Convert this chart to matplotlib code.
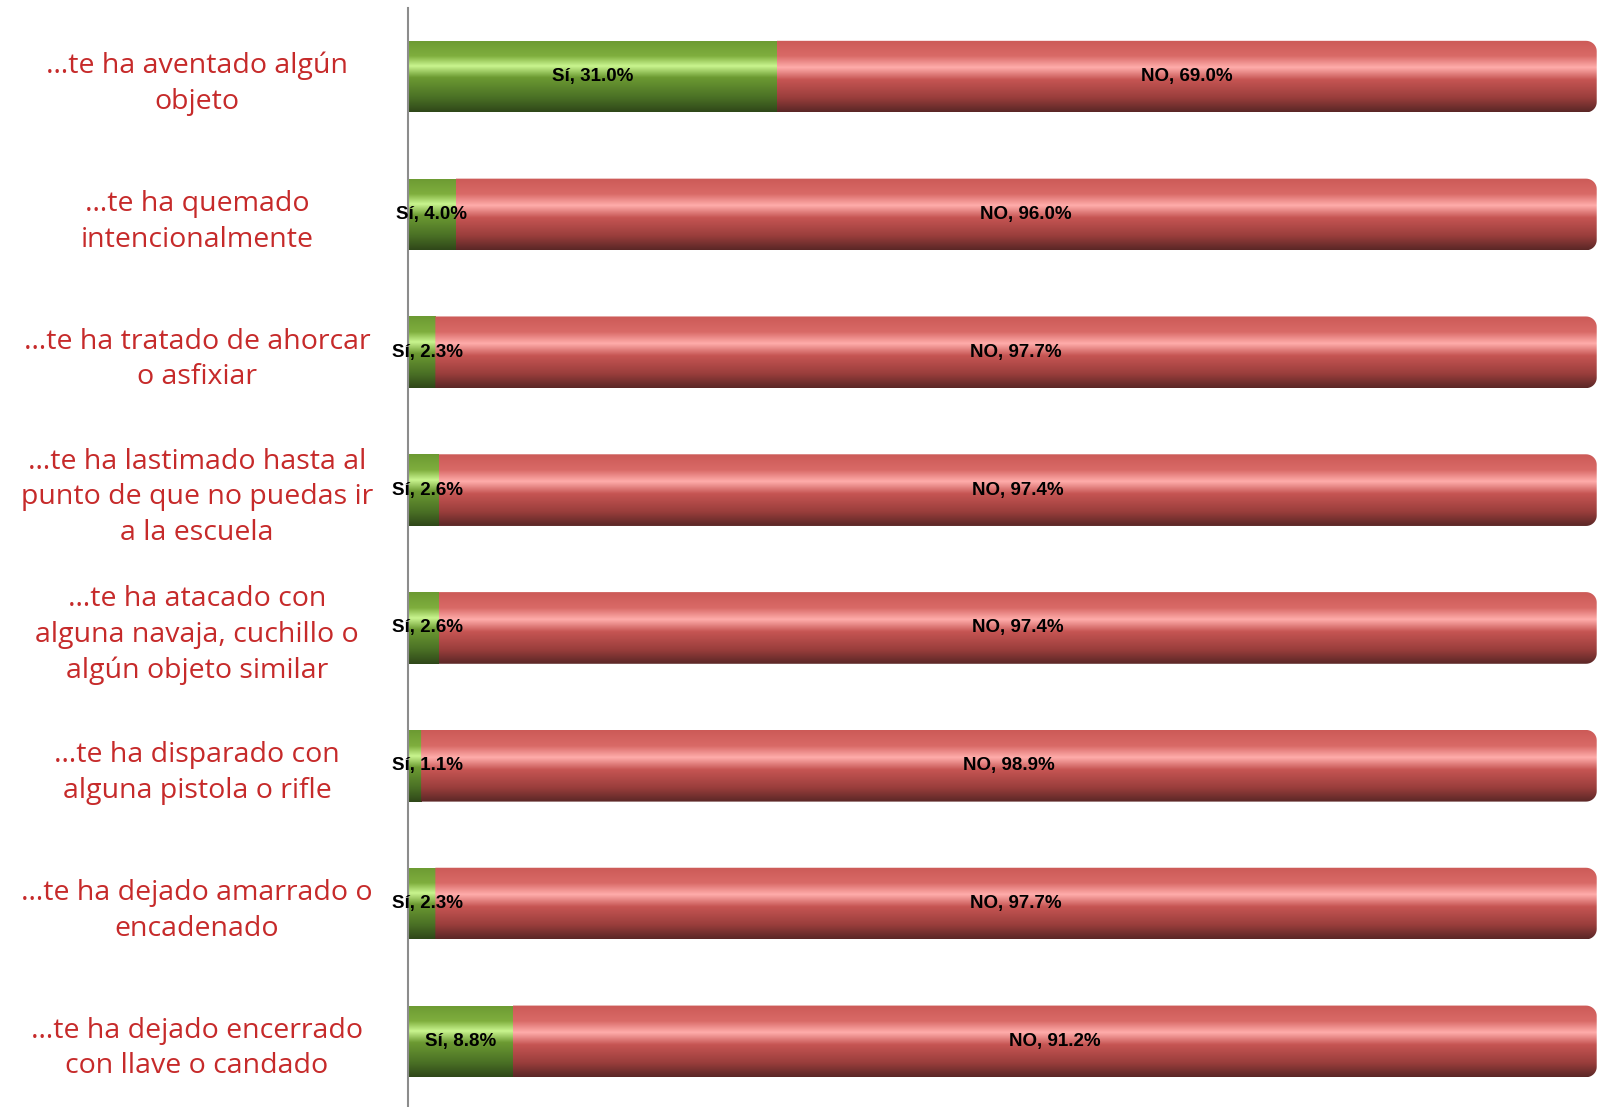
import numpy as np
import matplotlib
matplotlib.use("Agg")
import matplotlib.pyplot as plt
from matplotlib.colors import LinearSegmentedColormap
from matplotlib.path import Path
from matplotlib.patches import PathPatch

# survey items, top to bottom
items = [
    "…te ha aventado algún\nobjeto",
    "…te ha quemado\nintencionalmente",
    "…te ha tratado de ahorcar\no asfixiar",
    "…te ha lastimado hasta al\npunto de que no puedas ir\na la escuela",
    "…te ha atacado con\nalguna navaja, cuchillo o\nalgún objeto similar",
    "…te ha disparado con\nalguna pistola o rifle",
    "…te ha dejado amarrado o\nencadenado",
    "…te ha dejado encerrado\ncon llave o candado",
]
si_pct = [31.0, 4.0, 2.3, 2.6, 2.6, 1.1, 2.3, 8.8]
no_pct = [69.0, 96.0, 97.7, 97.4, 97.4, 98.9, 97.7, 91.2]

# cylinder-like shading: rows go from bar top to bar bottom
green_cmap = LinearSegmentedColormap.from_list(
    "g", [(0.0, "#6c9a32"), (0.22, "#7fae3e"), (0.36, "#c9f58f"),
          (0.52, "#6c9a32"), (0.8, "#4a7025"), (1.0, "#2f4719")])
red_cmap = LinearSegmentedColormap.from_list(
    "r", [(0.0, "#cc5a57"), (0.22, "#d96a67"), (0.38, "#ffadab"),
          (0.55, "#c65553"), (0.8, "#9a3e3c"), (1.0, "#5a2726")])


def _round_right(x0, x1, y0, y1, rx, ry, n=12):
    """Rectangle path with the two right corners rounded (data units)."""
    t = np.linspace(0, np.pi / 2, n)
    # y0 is the larger value because the y axis is inverted
    pts = [(x0, y0)]
    pts += [(x1 - rx + rx * np.sin(a), y0 - ry + ry * np.cos(a)) for a in t]
    pts += [(x1 - rx + rx * np.cos(a), y1 + ry - ry * np.sin(a)) for a in t]
    pts += [(x0, y1), (x0, y0)]
    return Path(pts, closed=True)


fig = plt.figure(figsize=(16.02, 11.07), dpi=100)
ax = fig.add_axes([0.2547, -0.003, 0.742, 0.996])

y = np.arange(len(items))
bar_h = 0.52
grad = np.linspace(0, 1, 256).reshape(-1, 1)

bars_si = ax.barh(y, si_pct, height=bar_h, color="#6c9a32", linewidth=0)
bars_no = ax.barh(y, no_pct, left=si_pct, height=bar_h, color="none", linewidth=0)

for b in bars_si:
    x0, w = b.get_x(), b.get_width()
    y0, h = b.get_y(), b.get_height()
    im = ax.imshow(grad, cmap=green_cmap, aspect="auto",
                   extent=(x0, x0 + w, y0 + h, y0), zorder=2,
                   interpolation="bilinear")
    im.set_clip_path(b)

for b in bars_no:
    x0, w = b.get_x(), b.get_width()
    y0, h = b.get_y(), b.get_height()
    clip = PathPatch(_round_right(x0, x0 + w, y0 + h, y0, 0.9, 0.075),
                     facecolor="none", edgecolor="none", transform=ax.transData)
    ax.add_patch(clip)
    im = ax.imshow(grad, cmap=red_cmap, aspect="auto",
                   extent=(x0, x0 + w, y0 + h, y0), zorder=2,
                   interpolation="bilinear")
    im.set_clip_path(clip)

for i in range(len(items)):
    xs = max(si_pct[i] / 2, 1.6)
    ax.text(xs, y[i], f"Sí, {si_pct[i]:.1f}%", ha="center", va="center",
            fontsize=13.5, fontweight="bold", color="black", zorder=4,
            family=["Liberation Sans", "DejaVu Sans"])
    ax.text(si_pct[i] + no_pct[i] / 2, y[i], f"NO, {no_pct[i]:.1f}%",
            ha="center", va="center", fontsize=13.5, fontweight="bold",
            color="black", zorder=4, family=["Liberation Sans", "DejaVu Sans"])

ax.set_xlim(0, 100)
ax.set_ylim(len(items) - 0.5, -0.5)
ax.set_yticks(y)
ax.set_yticklabels(items, fontsize=20.5, color="#c62a2a", ha="center",
                   linespacing=1.36, family=["Open Sans", "DejaVu Sans"])
ax.tick_params(axis="y", length=0, pad=152)
ax.set_xticks([])
for s in ("top", "right", "bottom"):
    ax.spines[s].set_visible(False)
ax.spines["left"].set_color("#8c8c8c")
ax.spines["left"].set_linewidth(1.5)

fig.savefig("out.png", dpi=100)
